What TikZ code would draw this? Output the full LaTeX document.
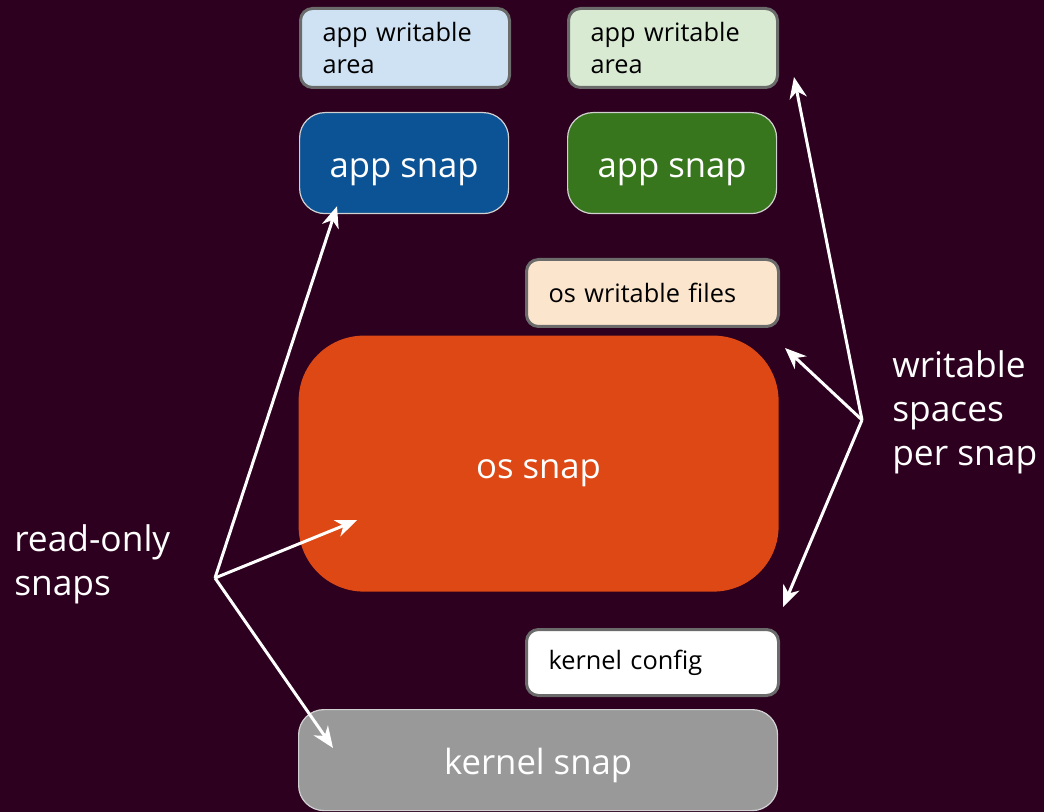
\documentclass[tikz,border=0pt]{standalone}
\usepackage{fontspec}
\setmainfont{Open Sans}
\usetikzlibrary{arrows.meta,calc}
\definecolor{aubergine}{HTML}{2C001E}
\definecolor{appblue}{HTML}{0B5394}
\definecolor{appgreen}{HTML}{38761D}
\definecolor{osorange}{HTML}{DD4814}
\definecolor{lightblue}{HTML}{CFE2F3}
\definecolor{lightgreen}{HTML}{D9EAD3}
\definecolor{lightpeach}{HTML}{FCE5CD}
\tikzstyle{writable}=[rectangle,draw=black!58,line width=2.25pt,rounded corners=9pt,anchor=north west,
  inner xsep=16.5pt,align=left,text=black,font=\fontsize{19}{24.5}\selectfont]
\tikzstyle{snap}=[rectangle,draw=black!18,line width=0.9pt,rounded corners=19pt,anchor=north west,
  text=white,font=\fontsize{26}{30}\selectfont,minimum height=75.75pt,text height=22pt,text depth=0pt]
\tikzstyle{label}=[anchor=west,align=left,inner sep=0pt,text=white,font=\fontsize{26.5}{33}\selectfont]
\tikzstyle{edge}=[draw,white,line width=2.25pt,-{Stealth[length=16pt,width=13pt,inset=5pt]}]

\begin{document}
\begin{tikzpicture}[x=0.75pt,y=-0.75pt]

    \fill[aubergine] (0,0) rectangle (1044,812);
    \useasboundingbox (0,0) rectangle (1044,812);

    % writable areas
    \node[writable, fill=lightblue, text width=123.75pt, minimum height=59.25pt] (wA) at (299,7) {app writable\\area};
    \node[writable, fill=lightgreen, text width=123.75pt, minimum height=59.25pt] (wB) at (567,7) {app writable\\area};
    \node[writable, fill=lightpeach, text width=156pt, minimum height=50.25pt] (osw) at (525,258) {os writable files};
    \node[writable, fill=white, text width=156pt, minimum height=49.5pt] (kc) at (525,628) {kernel config};

    % snaps
    \node[snap, fill=appblue, minimum width=156.75pt] (appA) at (299,112) {app snap};
    \node[snap, fill=appgreen, minimum width=156.75pt] (appB) at (567,112) {app snap};
    \node[snap, fill=osorange, draw=none, rounded corners=49pt, minimum width=360pt, minimum height=192pt] (os) at (298,335) {os snap};
    \node[snap, fill=black!40, minimum width=359.25pt] (ks) at (298,709) {kernel snap};

    \node[label] (ro) at (14,564) {read-only\\snaps};
    \node[label] (ws) at (892,412) {writable\\spaces\\per snap};

    \coordinate (roHub) at (215,578);
    \coordinate (wsHub) at (862,420);

    \coordinate (tA) at ($(appA.south west)+(38,-8)$);
    \coordinate (tO) at ($(os.south west)+(59,-72)$);
    \coordinate (tK) at ($(ks.north west)+(35,39)$);
    \coordinate (tB) at ($(wB.south east)+(15,-12)$);
    \coordinate (tW) at ($(osw.south east)+(5,20)$);
    \coordinate (tC) at ($(kc.north east)+(3,-21)$);

    \foreach \dest in {tA,tO,tK}
        \path[edge] (roHub) -- (\dest);
    \foreach \dest in {tB,tW,tC}
        \path[edge] (wsHub) -- (\dest);

\end{tikzpicture}
\end{document}
